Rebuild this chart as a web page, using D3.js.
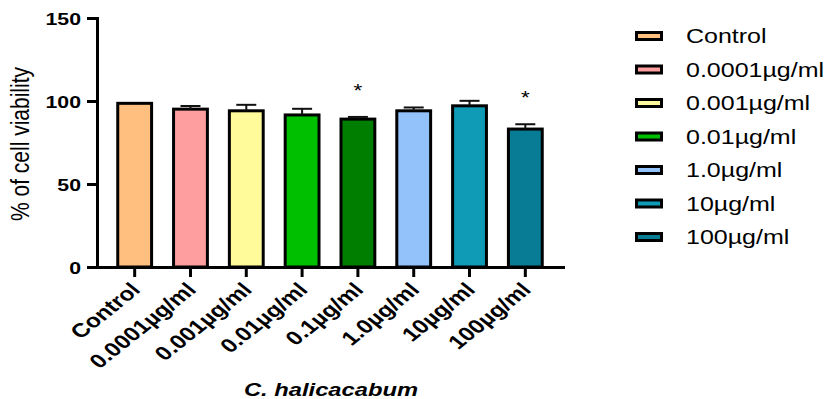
<!DOCTYPE html>
<html>
<head>
<meta charset="utf-8">
<script src="https://cdn.jsdelivr.net/npm/d3@7"></script>
<style>
  body { margin: 0; background: #fff; }
  text { font-family: "Liberation Sans", Arial, sans-serif; }
</style>
</head>
<body>
<div id="vis"></div>
<script>
// data
const groups = ["Control", "0.0001µg/ml", "0.001µg/ml", "0.01µg/ml", "0.1µg/ml", "1.0µg/ml", "10µg/ml", "100µg/ml"];
const viability = [99.5, 96, 95, 92.5, 90, 95, 98, 84];
const sem = [0, 1, 2.7, 2.8, 0.4, 1.1, 2.1, 2];
const significant = ["0.1µg/ml", "100µg/ml"];
const barColors = ["#FFC07F", "#FF9E9E", "#FFFB9B", "#00BF00", "#007E00", "#93C1F9", "#0F9AB6", "#087C95"];
// the legend in the original leaves out 0.1µg/ml
const legendGroups = ["Control", "0.0001µg/ml", "0.001µg/ml", "0.01µg/ml", "1.0µg/ml", "10µg/ml", "100µg/ml"];
const yTicks = [0, 50, 100, 150];

const FRAME_WIDTH = 824;
const FRAME_HEIGHT = 399;
const MARGINS = {left: 97, right: 261, top: 18, bottom: 132};
const SX = 1.25; // the source image is stretched sideways, so text is too
const STROKE = 3;

const FRAME = d3.select("#vis")
    .append("svg")
      .attr("width", FRAME_WIDTH)
      .attr("height", FRAME_HEIGHT);

const X_SCALE = d3.scaleBand()
    .domain(groups)
    .range([MARGINS.left, FRAME_WIDTH - MARGINS.right])
    .paddingInner(0.34)
    .paddingOuter(0.345);

const Y_SCALE = d3.scaleLinear()
    .domain([0, 150])
    .range([FRAME_HEIGHT - MARGINS.bottom, MARGINS.top]);

const color = d3.scaleOrdinal().domain(groups).range(barColors);

// bars (border drawn inside so the outer edge sits on the value)
FRAME.selectAll(".bar")
    .data(groups)
    .enter()
    .append("rect")
      .attr("class", "bar")
      .attr("x", (d) => X_SCALE(d) + STROKE / 2)
      .attr("y", (d, i) => Y_SCALE(viability[i]) + STROKE / 2)
      .attr("width", X_SCALE.bandwidth() - STROKE)
      .attr("height", (d, i) => Y_SCALE(0) - Y_SCALE(viability[i]) - STROKE / 2)
      .attr("fill", (d) => color(d))
      .attr("stroke", "#000")
      .attr("stroke-width", STROKE);

// error bars (upper half only)
const errG = FRAME.append("g").attr("stroke", "#111").attr("stroke-width", 2);
groups.forEach((g, i) => {
    if (sem[i] <= 0) return;
    const cx = X_SCALE(g) + X_SCALE.bandwidth() / 2;
    const top = Y_SCALE(viability[i] + sem[i]);
    errG.append("line")
        .attr("x1", cx).attr("x2", cx)
        .attr("y1", Y_SCALE(viability[i]) + STROKE / 2).attr("y2", top);
    errG.append("line")
        .attr("x1", cx - 10).attr("x2", cx + 10)
        .attr("y1", top).attr("y2", top);
});

// significance stars
FRAME.selectAll(".star")
    .data(significant)
    .enter()
    .append("text")
      .attr("class", "star")
      .attr("text-anchor", "middle")
      .attr("font-size", 18)
      .attr("transform", (d) => {
          const i = groups.indexOf(d);
          const x = X_SCALE(d) + X_SCALE.bandwidth() / 2;
          const y = Y_SCALE(viability[i] + sem[i]) - 20;
          return "translate(" + x + "," + y + ") scale(" + SX + ",1)";
      })
      .text("*");

// y axis
const yAxis = FRAME.append("g")
    .attr("transform", "translate(" + MARGINS.left + ",0)")
    .call(d3.axisLeft(Y_SCALE).tickValues(yTicks).tickSize(10).tickSizeOuter(0));
yAxis.select(".domain").attr("stroke-width", STROKE).attr("stroke-linecap", "square");
yAxis.selectAll(".tick line").attr("stroke-width", STROKE);
yAxis.selectAll(".tick text")
    .attr("x", null)
    .attr("dy", null)
    .attr("transform", "translate(-16,6) scale(" + SX + ",1)")
    .attr("font-size", 17)
    .attr("font-weight", "bold")
    .attr("fill", "#000");

// x axis
const xAxis = FRAME.append("g")
    .attr("transform", "translate(0," + Y_SCALE(0) + ")")
    .call(d3.axisBottom(X_SCALE).tickSize(10).tickSizeOuter(0));
xAxis.select(".domain").attr("stroke-width", STROKE).attr("stroke-linecap", "square");
xAxis.selectAll(".tick line").attr("stroke-width", STROKE);
xAxis.selectAll(".tick text")
    .attr("y", null)
    .attr("dy", null)
    .attr("text-anchor", "end")
    .attr("transform", "translate(7,24) scale(" + SX + ",1) rotate(-45)")
    .attr("font-size", 19.5)
    .attr("font-weight", "bold")
    .attr("fill", "#000");

// axis titles
FRAME.append("text")
    .attr("text-anchor", "middle")
    .attr("font-size", 21)
    .attr("transform", "translate(29,144) scale(" + SX + ",1) rotate(-90)")
    .text("% of cell viability");

FRAME.append("text")
    .attr("text-anchor", "middle")
    .attr("font-size", 19)
    .attr("font-weight", "bold")
    .attr("font-style", "italic")
    .attr("transform", "translate(331,396) scale(" + SX + ",1)")
    .text("C. halicacabum");

// legend
const LEG_X = 635;
const LEG_Y = 36;
const LEG_STEP = 33.5;
const legend = FRAME.selectAll(".legend")
    .data(legendGroups)
    .enter()
    .append("g")
      .attr("class", "legend")
      .attr("transform", (d, i) => "translate(" + LEG_X + "," + (LEG_Y + i * LEG_STEP) + ")");

legend.append("rect")
    .attr("x", STROKE / 2)
    .attr("y", -5 + STROKE / 2)
    .attr("width", 28 - STROKE)
    .attr("height", 10 - STROKE)
    .attr("fill", (d) => color(d))
    .attr("stroke", "#000")
    .attr("stroke-width", STROKE);

legend.append("text")
    .attr("font-size", 20)
    .attr("transform", "translate(51,7) scale(" + SX + ",1)")
    .text((d) => d);
</script>
</body>
</html>
